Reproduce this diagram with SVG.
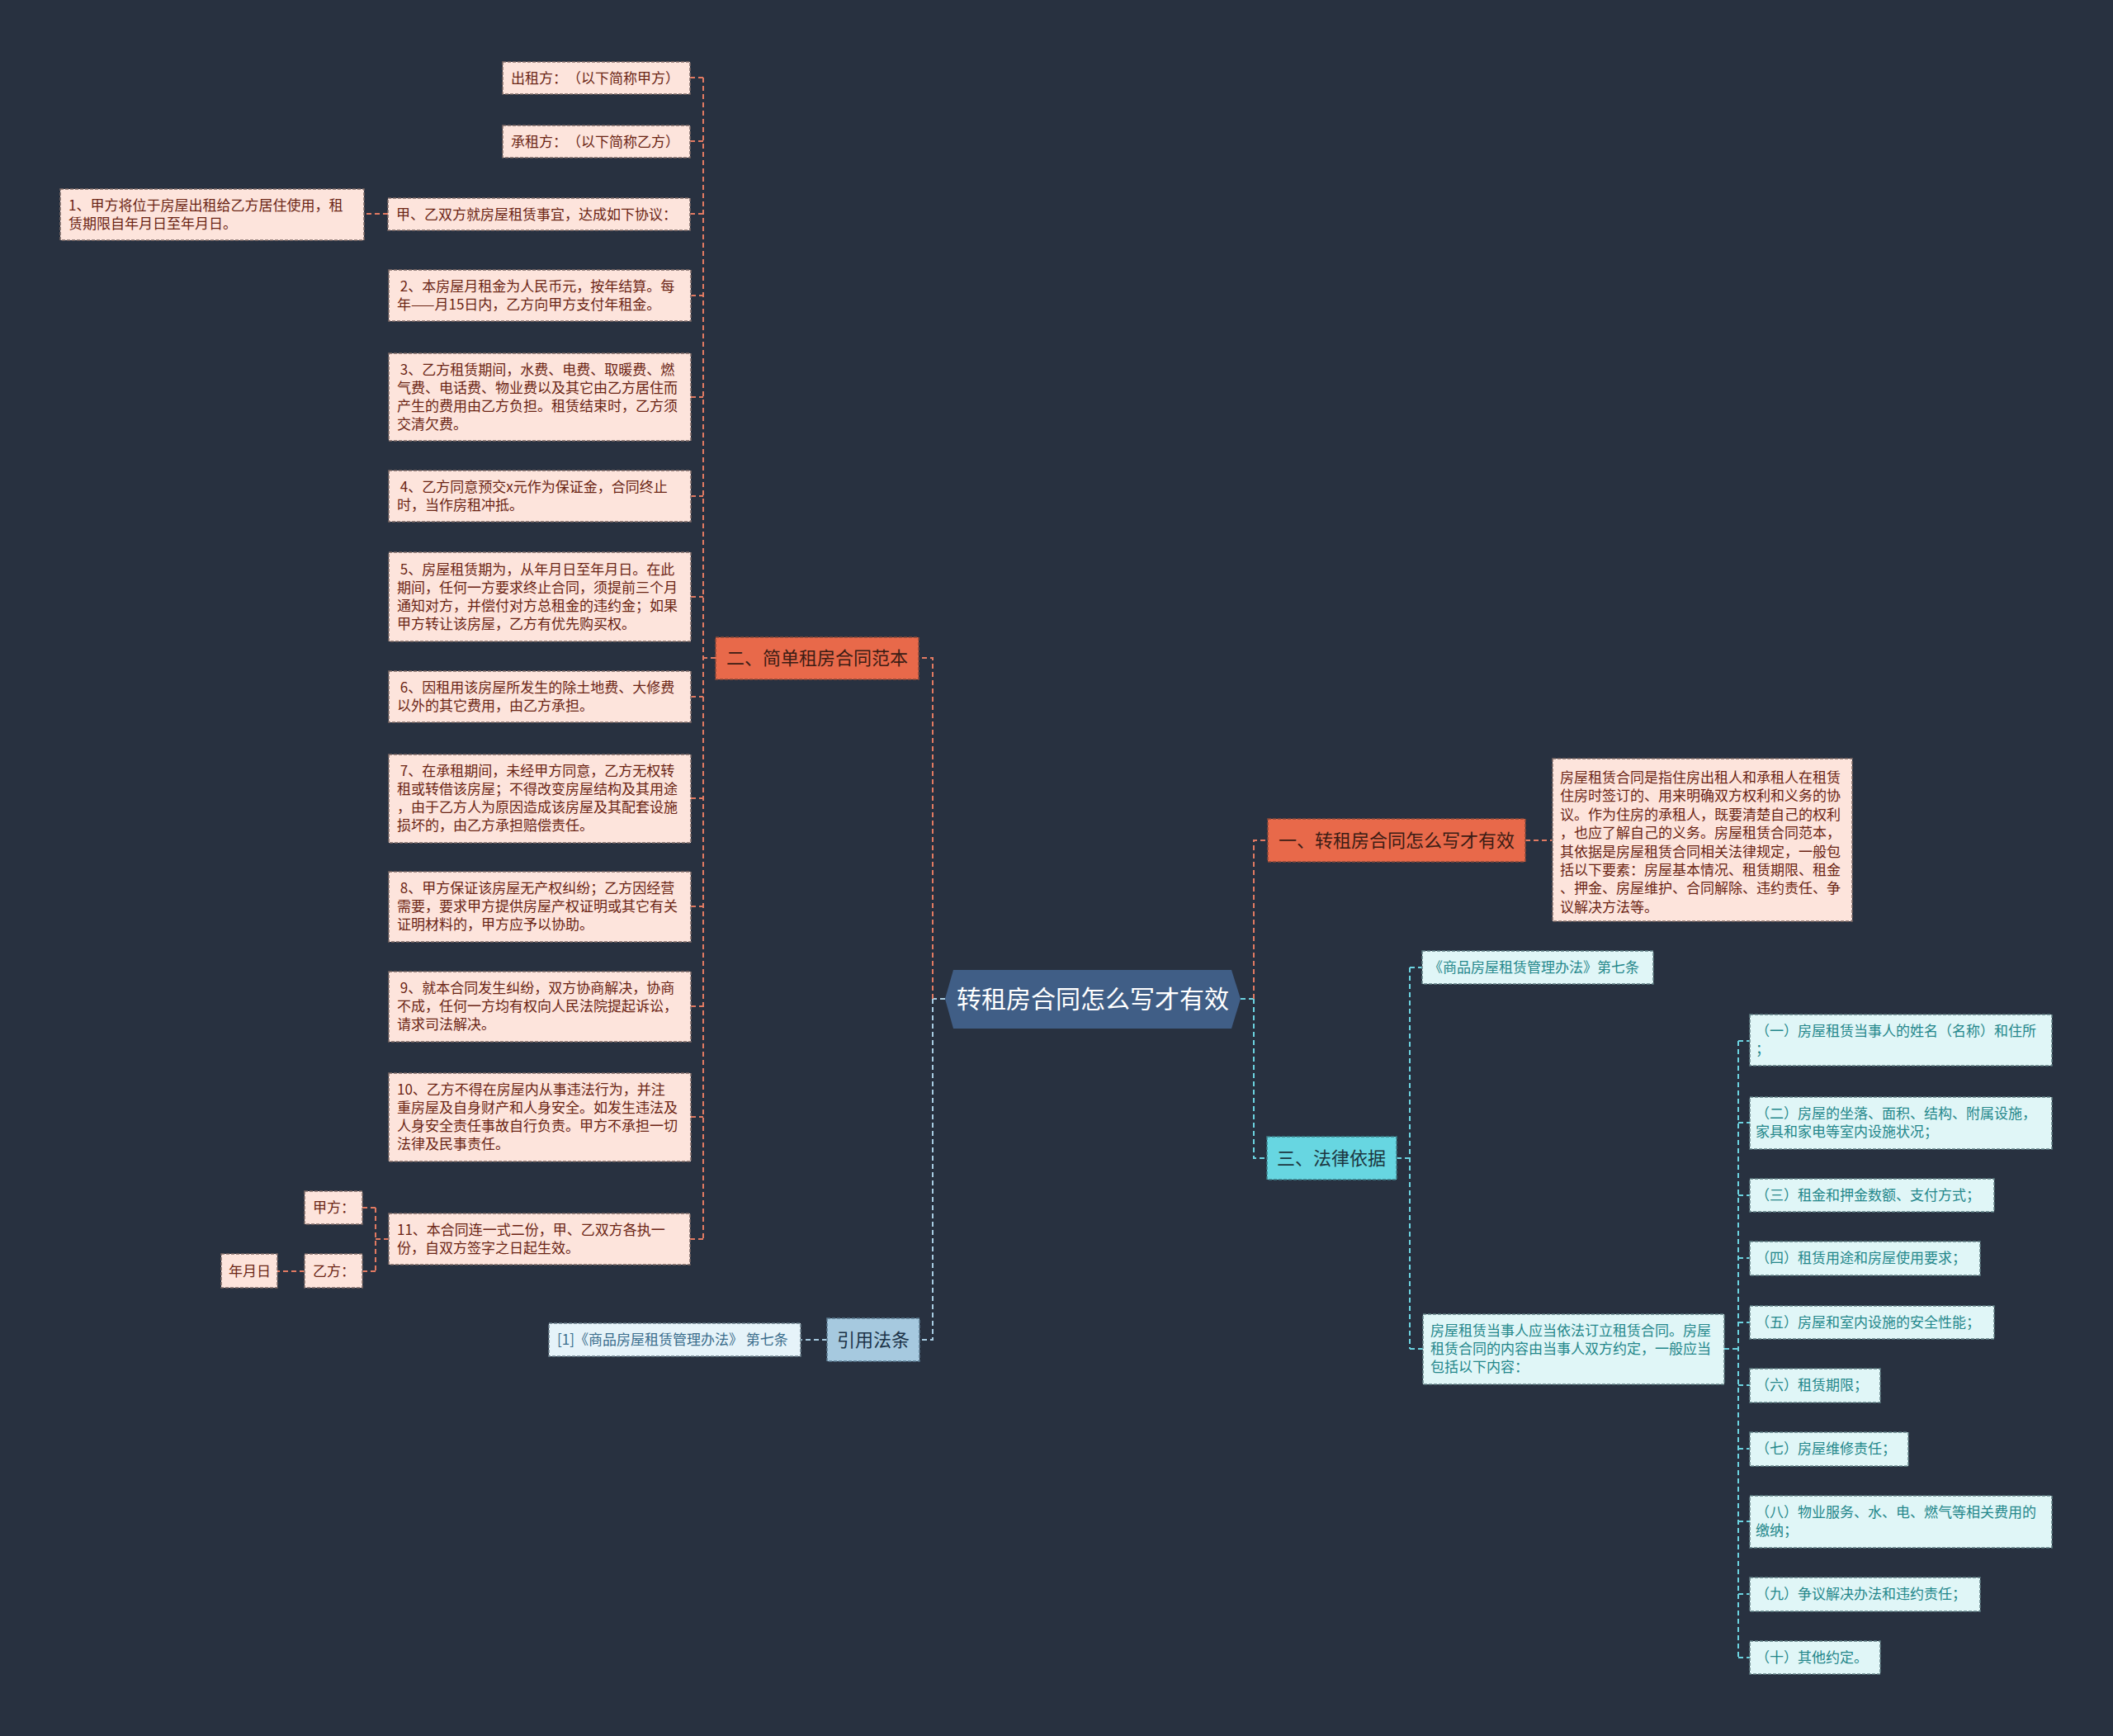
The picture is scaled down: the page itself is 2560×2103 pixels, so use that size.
<svg xmlns="http://www.w3.org/2000/svg" width="2560" height="2103" viewBox="0 0 2560 2103">
<style>
text{font-family:"Noto Sans CJK SC","Liberation Sans",sans-serif;text-spacing-trim:space-all;}
.bg{fill:#283140;}
.co{fill:none;stroke:#e27a62;stroke-width:2;stroke-dasharray:6 4;}
.cc{fill:none;stroke:#6cd3e0;stroke-width:2;stroke-dasharray:6 4;}
.cb{fill:none;stroke:#a8cce2;stroke-width:2;stroke-dasharray:6 4;}
.pk{fill:#fde4dc;stroke:#7d6a66;stroke-width:1.5;stroke-dasharray:4 2;}
.pt{font-size:17px;fill:#6b2414;}
.om{fill:#e8694a;stroke:#8a4a3a;stroke-width:1.5;stroke-dasharray:4 2;}
.ot{font-size:22px;fill:#3b1c14;}
.cm{fill:#67d6e1;stroke:#3d7f88;stroke-width:1.5;stroke-dasharray:4 2;}
.ct{font-size:22px;fill:#1c3640;}
.cs{fill:#e0f6f7;stroke:#5f7f84;stroke-width:1.5;stroke-dasharray:4 2;}
.cst{font-size:17px;fill:#24878b;}
.bm{fill:#a6c9df;stroke:#5a7a8e;stroke-width:1.5;stroke-dasharray:4 2;}
.bt{font-size:22px;fill:#1c3448;}
.bs{fill:#e6f3f9;stroke:#6a7f8a;stroke-width:1.5;stroke-dasharray:4 2;}
.bst{font-size:17px;fill:#3a6d8c;}
</style>
<rect class="bg" x="0" y="0" width="2560" height="2103"/>

<g id="connectors">
  <path class="cb" d="M1145 1210 H1130"/>
  <path class="co" d="M1130 1210 V797 H1113"/>
  <path class="cb" d="M1130 1210 V1623 H1114"/>
  <path class="cc" d="M1503 1210 H1519"/>
  <path class="co" d="M1519 1210 V1018 H1536"/>
  <path class="cc" d="M1519 1210 V1403 H1535"/>
  <path class="co" d="M1848 1018 H1881"/>
  <path class="co" d="M867 797 H852"/>
  <path class="co" d="M852 94 V1501"/>
  <path class="co" d="M836 94 H852 M836 171 H852 M836 259 H852 M837 358 H852 M837 481 H852 M837 601 H852 M837 723 H852 M837 844 H852 M837 967 H852 M837 1098 H852 M837 1219 H852 M837 1353 H852 M836 1501 H852"/>
  <path class="co" d="M470 259 H441"/>
  <path class="co" d="M471 1501 H455 M455 1463 V1540 M439 1463 H455 M439 1540 H455"/>
  <path class="co" d="M369 1540 H336"/>
  <path class="cb" d="M1002 1623 H970"/>
  <path class="cc" d="M1692 1403 H1708 M1708 1172 V1634 M1708 1172 H1723 M1708 1634 H1724"/>
  <path class="cc" d="M2089 1634 H2106 M2106 1261 V2008"/>
  <path class="cc" d="M2106 1261 H2120 M2106 1360 H2120 M2106 1448 H2120 M2106 1524 H2120 M2106 1602 H2120 M2106 1678 H2120 M2106 1755 H2120 M2106 1843 H2120 M2106 1931 H2120 M2106 2008 H2120"/>
</g>

<g id="center">
  <polygon points="1145,1210 1155,1175 1492,1175 1503,1210 1492,1246 1155,1246" fill="#405e86"/>
  <text x="1324" y="1221" font-size="30" fill="#ffffff" text-anchor="middle">转租房合同怎么写才有效</text>
</g>

<g id="n-er">
  <rect class="om" x="867" y="772" width="246" height="51"/>
  <text class="ot" x="990" y="805" text-anchor="middle">二、简单租房合同范本</text>
</g>
<g id="n-yi">
  <rect class="om" x="1536" y="992" width="312" height="52"/>
  <text class="ot" x="1692" y="1026" text-anchor="middle">一、转租房合同怎么写才有效</text>
</g>
<g id="n-san">
  <rect class="cm" x="1535" y="1377" width="157" height="52"/>
  <text class="ct" x="1613" y="1411" text-anchor="middle">三、法律依据</text>
</g>
<g id="n-yinyong">
  <rect class="bm" x="1002" y="1597" width="112" height="52"/>
  <text class="bt" x="1058" y="1631" text-anchor="middle">引用法条</text>
</g>

<g id="n-yi-desc">
  <rect class="pk" x="1881" y="919" width="363" height="197"/>
  <text class="pt" x="1890">
    <tspan x="1890" y="948">房屋租赁合同是指住房出租人和承租人在租赁</tspan>
    <tspan x="1890" dy="22.4">住房时签订的、用来明确双方权利和义务的协</tspan>
    <tspan x="1890" dy="22.4">议。作为住房的承租人，既要清楚自己的权利</tspan>
    <tspan x="1890" dy="22.4">，也应了解自己的义务。房屋租赁合同范本，</tspan>
    <tspan x="1890" dy="22.4">其依据是房屋租赁合同相关法律规定，一般包</tspan>
    <tspan x="1890" dy="22.4">括以下要素：房屋基本情况、租赁期限、租金</tspan>
    <tspan x="1890" dy="22.4">、押金、房屋维护、合同解除、违约责任、争</tspan>
    <tspan x="1890" dy="22.4">议解决方法等。</tspan>
  </text>
</g>

<g id="n-chuzu">
  <rect class="pk" x="609" y="75" width="227" height="39"/>
  <text class="pt" x="619" y="101">出租方：（以下简称甲方）</text>
</g>
<g id="n-chengzu">
  <rect class="pk" x="609" y="152" width="227" height="39"/>
  <text class="pt" x="619" y="178">承租方：（以下简称乙方）</text>
</g>
<g id="n-xieyi">
  <rect class="pk" x="470" y="240" width="366" height="39"/>
  <text class="pt" x="480" y="266">甲、乙双方就房屋租赁事宜，达成如下协议：</text>
</g>
<g id="n-1">
  <rect class="pk" x="73" y="229" width="368" height="62"/>
  <text class="pt"><tspan x="83" y="255">1、甲方将位于房屋出租给乙方居住使用，租</tspan><tspan x="83" dy="22">赁期限自年月日至年月日。</tspan></text>
</g>
<g id="n-2">
  <rect class="pk" x="471" y="327" width="366" height="62"/>
  <text class="pt"><tspan x="481" y="353">&#160;2、本房屋月租金为人民币元，按年结算。每</tspan><tspan x="481" dy="22">年——月15日内，乙方向甲方支付年租金。</tspan></text>
</g>
<g id="n-3">
  <rect class="pk" x="471" y="428" width="366" height="106"/>
  <text class="pt"><tspan x="481" y="454">&#160;3、乙方租赁期间，水费、电费、取暖费、燃</tspan><tspan x="481" dy="22">气费、电话费、物业费以及其它由乙方居住而</tspan><tspan x="481" dy="22">产生的费用由乙方负担。租赁结束时，乙方须</tspan><tspan x="481" dy="22">交清欠费。</tspan></text>
</g>
<g id="n-4">
  <rect class="pk" x="471" y="570" width="366" height="62"/>
  <text class="pt"><tspan x="481" y="596">&#160;4、乙方同意预交x元作为保证金，合同终止</tspan><tspan x="481" dy="22">时，当作房租冲抵。</tspan></text>
</g>
<g id="n-5">
  <rect class="pk" x="471" y="669" width="366" height="108"/>
  <text class="pt"><tspan x="481" y="696">&#160;5、房屋租赁期为，从年月日至年月日。在此</tspan><tspan x="481" dy="22">期间，任何一方要求终止合同，须提前三个月</tspan><tspan x="481" dy="22">通知对方，并偿付对方总租金的违约金；如果</tspan><tspan x="481" dy="22">甲方转让该房屋，乙方有优先购买权。</tspan></text>
</g>
<g id="n-6">
  <rect class="pk" x="471" y="813" width="366" height="62"/>
  <text class="pt"><tspan x="481" y="839">&#160;6、因租用该房屋所发生的除土地费、大修费</tspan><tspan x="481" dy="22">以外的其它费用，由乙方承担。</tspan></text>
</g>
<g id="n-7">
  <rect class="pk" x="471" y="914" width="366" height="107"/>
  <text class="pt"><tspan x="481" y="940">&#160;7、在承租期间，未经甲方同意，乙方无权转</tspan><tspan x="481" dy="22">租或转借该房屋；不得改变房屋结构及其用途</tspan><tspan x="481" dy="22">，由于乙方人为原因造成该房屋及其配套设施</tspan><tspan x="481" dy="22">损坏的，由乙方承担赔偿责任。</tspan></text>
</g>
<g id="n-8">
  <rect class="pk" x="471" y="1056" width="366" height="85"/>
  <text class="pt"><tspan x="481" y="1082">&#160;8、甲方保证该房屋无产权纠纷；乙方因经营</tspan><tspan x="481" dy="22">需要，要求甲方提供房屋产权证明或其它有关</tspan><tspan x="481" dy="22">证明材料的，甲方应予以协助。</tspan></text>
</g>
<g id="n-9">
  <rect class="pk" x="471" y="1177" width="366" height="85"/>
  <text class="pt"><tspan x="481" y="1203">&#160;9、就本合同发生纠纷，双方协商解决，协商</tspan><tspan x="481" dy="22">不成，任何一方均有权向人民法院提起诉讼，</tspan><tspan x="481" dy="22">请求司法解决。</tspan></text>
</g>
<g id="n-10">
  <rect class="pk" x="471" y="1300" width="366" height="107"/>
  <text class="pt"><tspan x="481" y="1326">10、乙方不得在房屋内从事违法行为，并注</tspan><tspan x="481" dy="22">重房屋及自身财产和人身安全。如发生违法及</tspan><tspan x="481" dy="22">人身安全责任事故自行负责。甲方不承担一切</tspan><tspan x="481" dy="22">法律及民事责任。</tspan></text>
</g>
<g id="n-11">
  <rect class="pk" x="471" y="1470" width="365" height="62"/>
  <text class="pt"><tspan x="481" y="1496">11、本合同连一式二份，甲、乙双方各执一</tspan><tspan x="481" dy="22">份，自双方签字之日起生效。</tspan></text>
</g>
<g id="n-jiafang">
  <rect class="pk" x="369" y="1443" width="70" height="40"/>
  <text class="pt" x="379" y="1469">甲方：</text>
</g>
<g id="n-yifang">
  <rect class="pk" x="369" y="1519" width="70" height="41"/>
  <text class="pt" x="379" y="1546">乙方：</text>
</g>
<g id="n-nianyueri">
  <rect class="pk" x="268" y="1519" width="68" height="41"/>
  <text class="pt" x="277" y="1546">年月日</text>
</g>

<g id="n-ref1">
  <rect class="bs" x="665" y="1603" width="305" height="40"/>
  <text class="bst" x="675" y="1629">[1]《商品房屋租赁管理办法》 第七条</text>
</g>

<g id="n-law7">
  <rect class="cs" x="1723" y="1152" width="280" height="40"/>
  <text class="cst" x="1731" y="1178">《商品房屋租赁管理办法》第七条</text>
</g>
<g id="n-lawdesc">
  <rect class="cs" x="1724" y="1592" width="365" height="85"/>
  <text class="cst"><tspan x="1733" y="1618">房屋租赁当事人应当依法订立租赁合同。房屋</tspan><tspan x="1733" dy="22">租赁合同的内容由当事人双方约定，一般应当</tspan><tspan x="1733" dy="22">包括以下内容：</tspan></text>
</g>
<g id="n-i1">
  <rect class="cs" x="2120" y="1229" width="366" height="62"/>
  <text class="cst"><tspan x="2127" y="1255">（一）房屋租赁当事人的姓名（名称）和住所</tspan><tspan x="2127" dy="22">；</tspan></text>
</g>
<g id="n-i2">
  <rect class="cs" x="2120" y="1329" width="366" height="63"/>
  <text class="cst"><tspan x="2127" y="1355">（二）房屋的坐落、面积、结构、附属设施，</tspan><tspan x="2127" dy="22">家具和家电等室内设施状况；</tspan></text>
</g>
<g id="n-i3">
  <rect class="cs" x="2120" y="1428" width="296" height="40"/>
  <text class="cst" x="2127" y="1454">（三）租金和押金数额、支付方式；</text>
</g>
<g id="n-i4">
  <rect class="cs" x="2120" y="1504" width="279" height="41"/>
  <text class="cst" x="2127" y="1530">（四）租赁用途和房屋使用要求；</text>
</g>
<g id="n-i5">
  <rect class="cs" x="2120" y="1582" width="296" height="40"/>
  <text class="cst" x="2127" y="1608">（五）房屋和室内设施的安全性能；</text>
</g>
<g id="n-i6">
  <rect class="cs" x="2120" y="1658" width="158" height="41"/>
  <text class="cst" x="2127" y="1684">（六）租赁期限；</text>
</g>
<g id="n-i7">
  <rect class="cs" x="2120" y="1735" width="192" height="41"/>
  <text class="cst" x="2127" y="1761">（七）房屋维修责任；</text>
</g>
<g id="n-i8">
  <rect class="cs" x="2120" y="1812" width="366" height="63"/>
  <text class="cst"><tspan x="2127" y="1838">（八）物业服务、水、电、燃气等相关费用的</tspan><tspan x="2127" dy="22">缴纳；</tspan></text>
</g>
<g id="n-i9">
  <rect class="cs" x="2120" y="1911" width="279" height="41"/>
  <text class="cst" x="2127" y="1937">（九）争议解决办法和违约责任；</text>
</g>
<g id="n-i10">
  <rect class="cs" x="2120" y="1988" width="158" height="40"/>
  <text class="cst" x="2127" y="2014">（十）其他约定。</text>
</g>
</svg>
